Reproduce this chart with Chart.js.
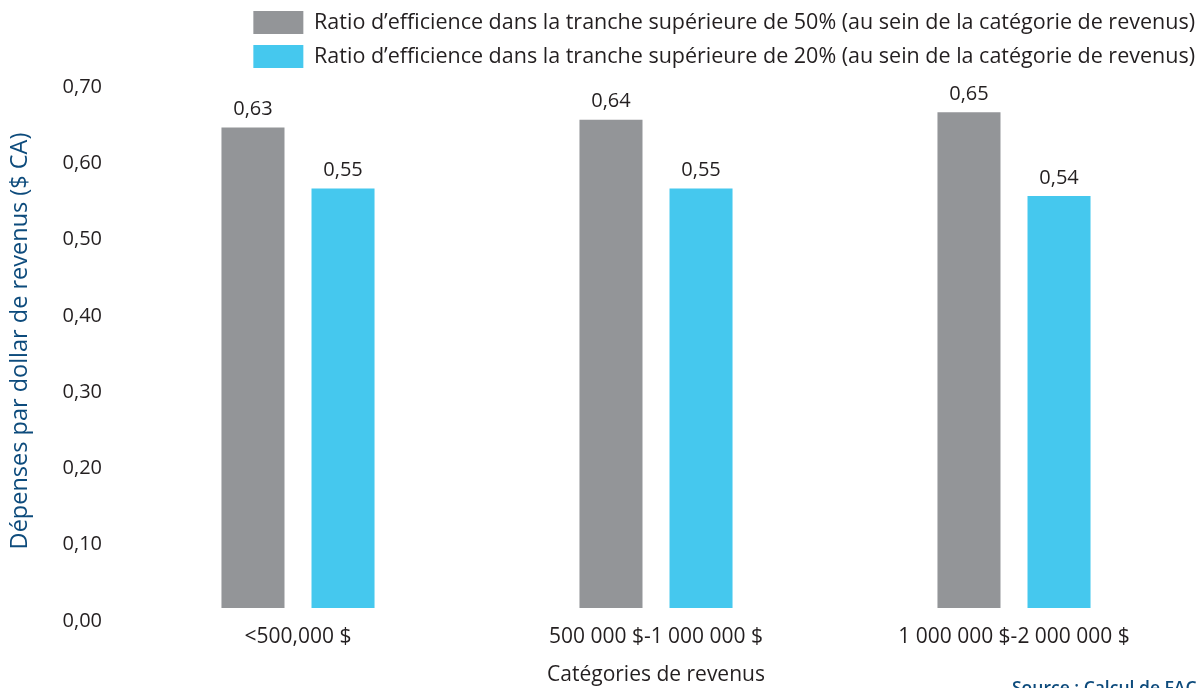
<!DOCTYPE html>
<html>
<head>
<meta charset="utf-8">
<script src="https://cdn.jsdelivr.net/npm/chart.js@4"></script>
<style>
  html, body { margin: 0; padding: 0; background: #ffffff; }
  #wrap { width: 1200px; height: 688px; position: relative; }
</style>
</head>
<body>
<div id="wrap"><canvas id="chart"></canvas></div>
<script>
  const categories = ['<500,000 $', '500 000 $-1 000 000 $', '1 000 000 $-2 000 000 $'];
  const seriesNames = [
    'Ratio d\u2019efficience dans la tranche supérieure de 50% (au sein de la catégorie de revenus)',
    'Ratio d\u2019efficience dans la tranche supérieure de 20% (au sein de la catégorie de revenus)',
  ];
  const top50 = [0.63, 0.64, 0.65];
  const top20 = [0.55, 0.55, 0.54];
  const yTicks = [0, 0.1, 0.2, 0.3, 0.4, 0.5, 0.6, 0.7];

  const FONT = "'Open Sans', 'Noto Sans', sans-serif";
  const TEXT = '#231f20';
  const BLUE = '#0d4b7c';

  const frNum = (v) => Number(v).toFixed(2).replace('.', ',');

  // legend takes a fixed height and sits a bit further right than chart.js puts it
  const legendTweak = {
    id: 'legendTweak',
    beforeLayout(chart) {
      const lg = chart.legend;
      if (!lg || lg._tweaked) return;
      lg._tweaked = true;
      const fit = lg.fit.bind(lg);
      lg.fit = function () {
        fit();
        this.height = 74;
      };
      const draw = lg.draw.bind(lg);
      lg.draw = function (area) {
        const c = this.ctx;
        c.save();
        c.translate(13, 0);
        draw(area);
        c.restore();
      };
    },
  };

  const valueLabels = {
    id: 'valueLabels',
    afterDatasetsDraw(chart) {
      const { ctx } = chart;
      ctx.save();
      ctx.font = `20px ${FONT}`;
      ctx.fillStyle = TEXT;
      ctx.textAlign = 'center';
      ctx.textBaseline = 'middle';
      chart.data.datasets.forEach((ds, i) => {
        chart.getDatasetMeta(i).data.forEach((bar, j) => {
          ctx.fillText(frNum(ds.data[j]), bar.x, bar.y - 18);
        });
      });
      ctx.restore();
    },
  };

  const sourceNote = {
    id: 'sourceNote',
    afterDraw(chart) {
      const { ctx } = chart;
      ctx.save();
      ctx.font = `600 17.5px ${FONT}`;
      ctx.fillStyle = BLUE;
      ctx.textAlign = 'left';
      ctx.textBaseline = 'top';
      ctx.fillText('Source : Calcul de FAC', 1012, 680);
      ctx.restore();
    },
  };

  new Chart(document.getElementById('chart'), {
    type: 'bar',
    data: {
      labels: categories,
      datasets: [
        { label: seriesNames[0], data: top50, backgroundColor: '#939598' },
        { label: seriesNames[1], data: top20, backgroundColor: '#45c8ee' },
      ],
    },
    options: {
      responsive: true,
      maintainAspectRatio: false,
      animation: false,
      categoryPercentage: 0.503,
      barPercentage: 0.7,
      layout: { padding: { left: 0, right: 7, top: 0, bottom: 0 } },
      plugins: {
        tooltip: { enabled: false },
        legend: {
          position: 'top',
          align: 'end',
          labels: {
            boxWidth: 50,
            boxHeight: 23,
            padding: 11,
            color: TEXT,
            font: { family: FONT, size: 21.5 },
          },
        },
      },
      scales: {
        x: {
          afterFit(scale) {
            scale.height = 80;
          },
          grid: { display: false, drawTicks: false },
          border: { display: false },
          ticks: { color: TEXT, font: { family: FONT, size: 21 }, padding: 16, maxRotation: 0 },
          title: {
            display: true,
            text: 'Catégories de revenus',
            color: TEXT,
            font: { family: FONT, size: 21 },
            padding: { top: 0, bottom: 0 },
          },
        },
        y: {
          min: 0,
          max: 0.7,
          afterBuildTicks(scale) {
            scale.ticks = yTicks.map((value) => ({ value }));
          },
          afterFit(scale) {
            scale.width = 119;
          },
          grid: { display: false, drawTicks: false },
          border: { display: false },
          ticks: {
            color: TEXT,
            font: { family: FONT, size: 20 },
            padding: 17,
            labelOffset: 13,
            callback: (v) => frNum(v),
          },
          title: {
            display: true,
            text: 'Dépenses par dollar de revenus ($ CA)',
            color: BLUE,
            font: { family: FONT, size: 23.5 },
            padding: { top: 6, bottom: 0 },
          },
        },
      },
    },
    plugins: [legendTweak, valueLabels, sourceNote],
  });
</script>
</body>
</html>
